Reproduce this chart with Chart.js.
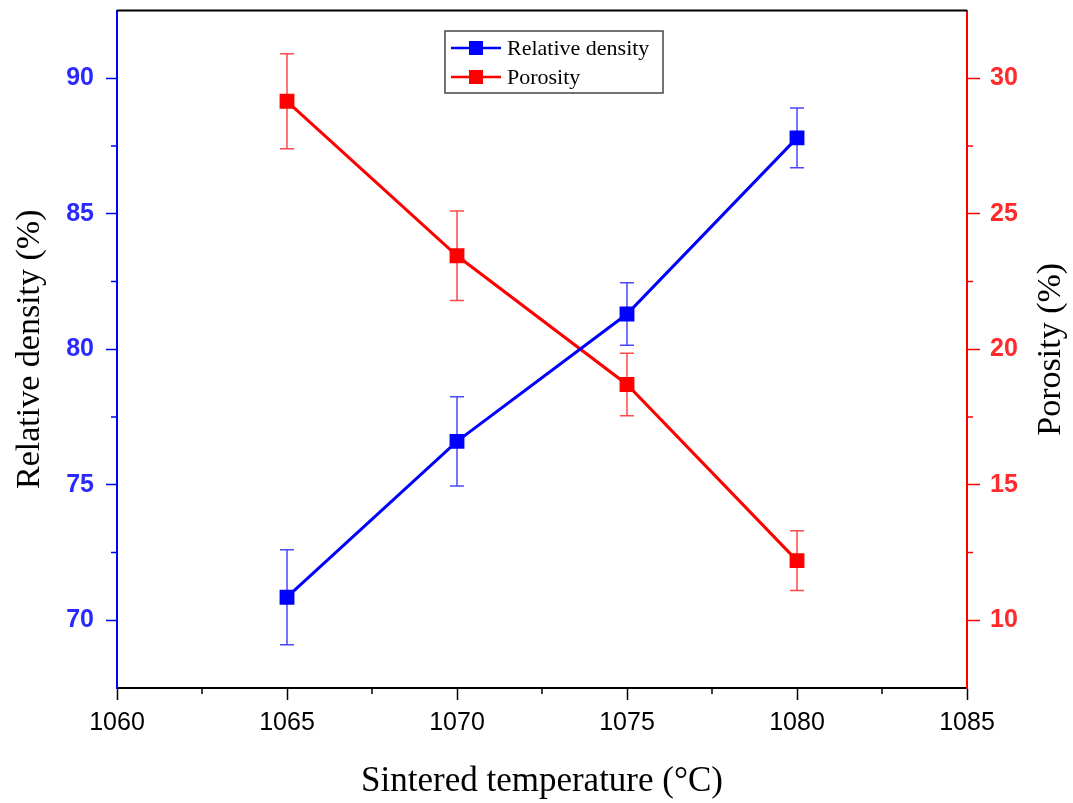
<!DOCTYPE html>
<html>
<head>
<meta charset="utf-8">
<script src="https://cdn.jsdelivr.net/npm/chart.js@4.4.1/dist/chart.umd.min.js"></script>
<style>
html,body{margin:0;padding:0;background:#fff;}
canvas{display:block;}
</style>
</head>
<body>
<canvas id="c" width="1073" height="803"></canvas>
<script>
// ---- data ----
const temperatures = [1065, 1070, 1075, 1080];
const relativeDensity = [70.85, 76.6, 81.3, 87.8];
const relativeDensityErr = [1.75, 1.65, 1.15, 1.1];
const porosity = [29.15, 23.45, 18.7, 12.2];
const porosityErr = [1.75, 1.65, 1.15, 1.1];
const seriesNames = ['Relative density', 'Porosity'];
const xTicks = [1060, 1065, 1070, 1075, 1080, 1085];
const xMinorTicks = [1062.5, 1067.5, 1072.5, 1077.5, 1082.5];
const leftTicks = [70, 75, 80, 85, 90];
const leftMinorTicks = [72.5, 77.5, 82.5, 87.5];
const rightTicks = [10, 15, 20, 25, 30];
const rightMinorTicks = [12.5, 17.5, 22.5, 27.5];
const xTitle = 'Sintered temperature (°C)';
const leftTitle = 'Relative density (%)';
const rightTitle = 'Porosity (%)';

const BLUE = '#0000ff', RED = '#ff0000';
const SERIF = '"Liberation Serif", "Times New Roman", serif';
const SANS = '"Liberation Sans", Arial, sans-serif';

const errorBars = {
  id: 'errorBars',
  beforeDatasetsDraw(chart) {
    const ctx = chart.ctx;
    chart.data.datasets.forEach((ds) => {
      const xs = chart.scales.x, ys = chart.scales[ds.yAxisID];
      ctx.save();
      ctx.strokeStyle = ds.errColor;
      ctx.lineWidth = 1.5;
      ds.data.forEach((p, i) => {
        const e = ds.err[i];
        const px = xs.getPixelForValue(p.x);
        const y1 = ys.getPixelForValue(p.y + e), y2 = ys.getPixelForValue(p.y - e);
        ctx.beginPath();
        ctx.moveTo(px, y1); ctx.lineTo(px, y2);
        ctx.moveTo(px - 7, y1); ctx.lineTo(px + 7, y1);
        ctx.moveTo(px - 7, y2); ctx.lineTo(px + 7, y2);
        ctx.stroke();
      });
      ctx.restore();
    });
  }
};

const frame = {
  id: 'frame',
  afterDraw(chart) {
    const ctx = chart.ctx, a = chart.chartArea;
    ctx.save();
    ctx.lineWidth = 2;
    ctx.strokeStyle = '#000';
    ctx.beginPath(); ctx.moveTo(a.left, a.top); ctx.lineTo(a.right, a.top); ctx.stroke();
    // minor ticks
    const drawMinorY = (scale, vals, color, side) => {
      ctx.strokeStyle = color; ctx.lineWidth = 1.5;
      vals.forEach(v => {
        const y = scale.getPixelForValue(v);
        ctx.beginPath();
        if (side === 'left') { ctx.moveTo(a.left, y); ctx.lineTo(a.left - 6, y); }
        else { ctx.moveTo(a.right, y); ctx.lineTo(a.right + 6, y); }
        ctx.stroke();
      });
    };
    drawMinorY(chart.scales.y, leftMinorTicks, BLUE, 'left');
    drawMinorY(chart.scales.y1, rightMinorTicks, RED, 'right');
    ctx.strokeStyle = '#000'; ctx.lineWidth = 1.5;
    xMinorTicks.forEach(v => {
      const x = chart.scales.x.getPixelForValue(v);
      ctx.beginPath(); ctx.moveTo(x, a.bottom); ctx.lineTo(x, a.bottom + 6); ctx.stroke();
    });
    // right axis title (reads bottom-to-top)
    ctx.save();
    ctx.translate(1051, (a.top + a.bottom) / 2);
    ctx.rotate(-Math.PI / 2);
    ctx.fillStyle = '#000';
    ctx.font = '34px ' + SERIF;
    ctx.textAlign = 'center';
    ctx.textBaseline = 'middle';
    ctx.fillText(rightTitle, 0, 0);
    ctx.restore();
    // legend
    const lx = 445, ly = 31, lw = 218, lh = 62;
    ctx.fillStyle = '#fff';
    ctx.fillRect(lx, ly, lw, lh);
    ctx.strokeStyle = '#444'; ctx.lineWidth = 1.5;
    ctx.strokeRect(lx, ly, lw, lh);
    chart.data.datasets.forEach((ds, i) => {
      const cy = ly + 17 + i * 29;
      ctx.strokeStyle = ds.borderColor; ctx.lineWidth = 2.5;
      ctx.beginPath(); ctx.moveTo(lx + 6, cy); ctx.lineTo(lx + 56, cy); ctx.stroke();
      ctx.fillStyle = ds.borderColor;
      ctx.fillRect(lx + 31 - 7, cy - 7, 14, 14);
      ctx.fillStyle = '#000';
      ctx.font = '22px ' + SERIF;
      ctx.textBaseline = 'middle';
      ctx.textAlign = 'left';
      ctx.fillText(ds.label, lx + 62, cy + 1);
    });
    ctx.restore();
  }
};

const setTicks = vals => scale => { scale.ticks = vals.map(v => ({ value: v })); };
const plainLabel = v => String(v);

new Chart(document.getElementById('c'), {
  type: 'line',
  data: {
    datasets: [
      {
        label: seriesNames[0],
        data: temperatures.map((t, i) => ({ x: t, y: relativeDensity[i] })),
        err: relativeDensityErr,
        errColor: 'rgba(40,40,255,0.85)',
        yAxisID: 'y',
        borderColor: BLUE, backgroundColor: BLUE,
        borderWidth: 3, pointStyle: 'rect', pointRadius: 10.5, pointBorderWidth: 0,
        tension: 0
      },
      {
        label: seriesNames[1],
        data: temperatures.map((t, i) => ({ x: t, y: porosity[i] })),
        err: porosityErr,
        errColor: 'rgba(255,40,40,0.85)',
        yAxisID: 'y1',
        borderColor: RED, backgroundColor: RED,
        borderWidth: 3, pointStyle: 'rect', pointRadius: 10.5, pointBorderWidth: 0,
        tension: 0
      }
    ]
  },
  options: {
    responsive: false,
    animation: false,
    layout: { padding: { top: 8, left: 0, right: 0, bottom: 0 } },
    plugins: { legend: { display: false }, tooltip: { enabled: false } },
    scales: {
      x: {
        type: 'linear', min: 1060, max: 1085,
        afterBuildTicks: setTicks(xTicks),
        afterFit: s => { s.height = 115; s.paddingLeft = 0; s.paddingRight = 0; },
        border: { display: true, color: '#000', width: 2 },
        grid: { drawOnChartArea: false, tickLength: 12, tickColor: '#000', tickWidth: 1.5 },
        ticks: { color: '#000', font: { family: SANS, size: 25 }, padding: 8, maxRotation: 0, autoSkip: false, callback: plainLabel },
        title: { display: true, text: xTitle, color: '#000', font: { family: SERIF, size: 35 }, padding: { top: 0, bottom: 0 } }
      },
      y: {
        type: 'linear', position: 'left', min: 67.5, max: 92.5,
        afterBuildTicks: setTicks(leftTicks),
        afterFit: s => { s.width = 117; s.paddingTop = 0; s.paddingBottom = 0; },
        border: { display: true, color: BLUE, width: 2 },
        grid: { drawOnChartArea: false, tickLength: 11, tickColor: BLUE, tickWidth: 1.5 },
        ticks: { color: '#2a2aff', font: { family: SANS, size: 25, weight: 'bold' }, padding: 12, callback: plainLabel },
        title: { display: true, text: leftTitle, color: '#000', font: { family: SERIF, size: 34 }, padding: { top: 10, bottom: 0 } }
      },
      y1: {
        type: 'linear', position: 'right', min: 7.5, max: 32.5,
        afterBuildTicks: setTicks(rightTicks),
        afterFit: s => { s.width = 106; s.paddingTop = 0; s.paddingBottom = 0; },
        border: { display: true, color: RED, width: 2 },
        grid: { drawOnChartArea: false, tickLength: 13, tickColor: RED, tickWidth: 1.5 },
        ticks: { color: '#ff2a2a', font: { family: SANS, size: 25, weight: 'bold' }, padding: 10, callback: plainLabel },
        title: { display: false }
      }
    }
  },
  plugins: [errorBars, frame]
});
</script>
</body>
</html>
